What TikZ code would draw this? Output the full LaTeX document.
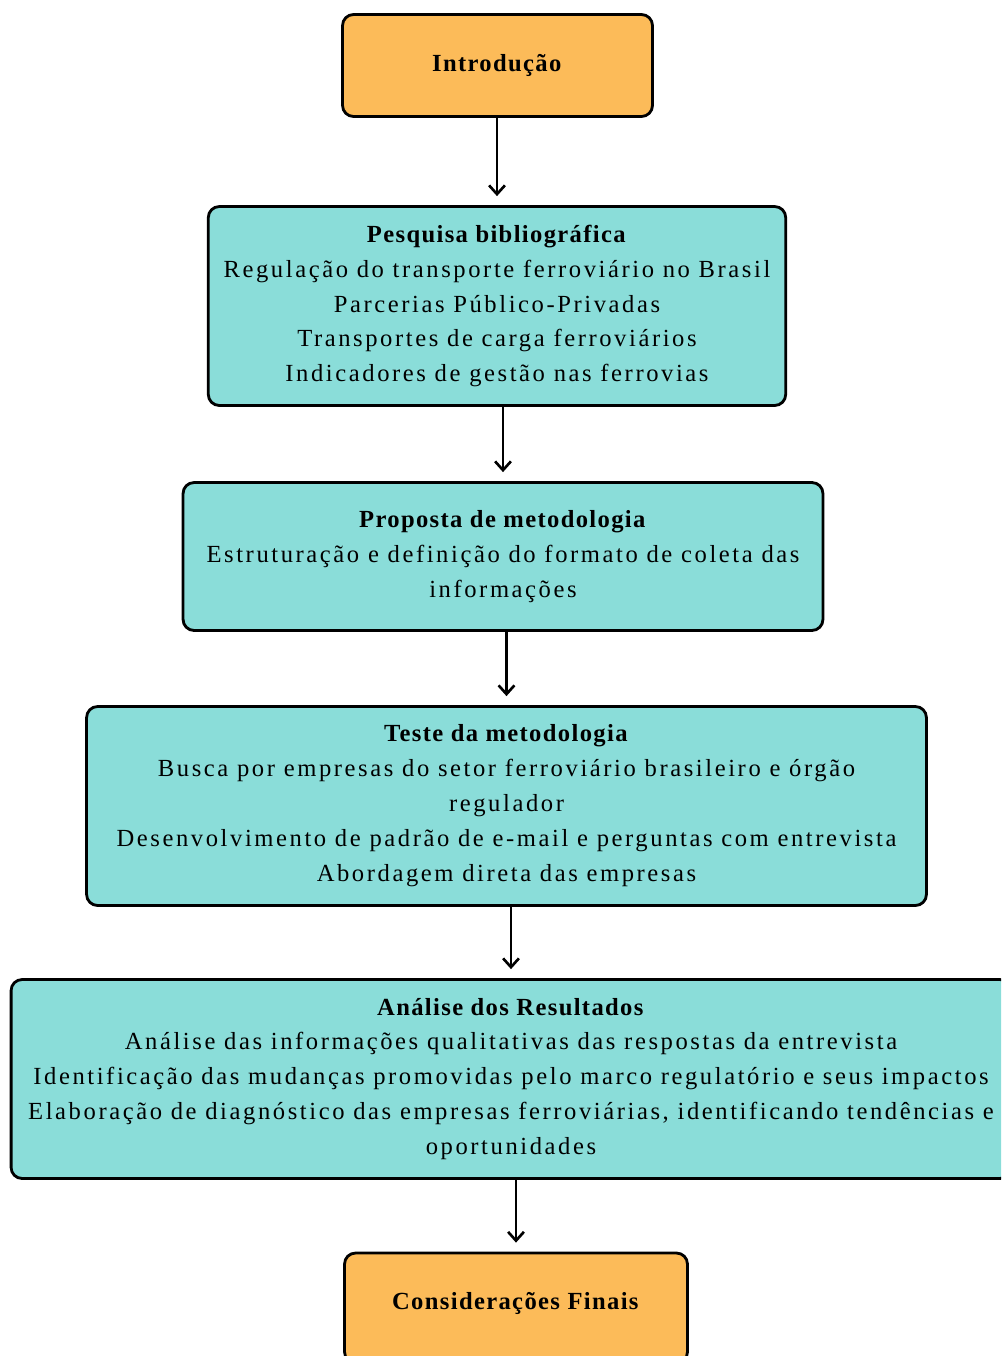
\documentclass[tikz,border=0pt]{standalone}
\usepackage{fontspec}
\setmainfont{Liberation Serif}[LetterSpace=10.5,BoldFeatures={LetterSpace=5.5}]
\usetikzlibrary{arrows.meta,positioning}

\definecolor{orangebox}{HTML}{FCBB59}
\definecolor{tealbox}{HTML}{8ADDD9}

\tikzset{
  stage/.style={rectangle,draw=black,line width=1.6pt,rounded corners=0.22cm,
    align=center,inner sep=0pt,font=\fontsize{14}{19.9}\selectfont},
  endstage/.style={stage,fill=orangebox},
  midstage/.style={stage,fill=tealbox},
  flow/.style={-{Straight Barb[length=5pt,width=9pt]},line width=1.5pt,shorten >=0.18cm}
}

\begin{document}
\begin{tikzpicture}[x=0.02cm,y=-0.02cm]
    \clip (0,0) rectangle (1001,1356);
    \useasboundingbox (0,0) rectangle (1001,1356);
    \fill[white] (0,0) rectangle (1001,1356);

    \node[endstage,minimum width=6.2cm,minimum height=2.04cm] (intro) at (497.5,65.5) {\textbf{Introdução}};

    \node[midstage,minimum width=11.55cm,minimum height=3.98cm] (pesq) at (497,306) {\textbf{Pesquisa bibliográfica}\\
        Regulação do transporte ferroviário no Brasil\\
        Parcerias Público-Privadas\\
        Transportes de carga ferroviários\\
        Indicadores de gestão nas ferrovias};

    \node[midstage,minimum width=12.8cm,minimum height=2.96cm] (prop) at (503,556.5) {\textbf{Proposta de metodologia}\\
        Estruturação e definição do formato de coleta das\\
        informações};

    \node[midstage,minimum width=16.8cm,minimum height=3.98cm] (teste) at (506.5,806) {\textbf{Teste da metodologia}\\
        Busca por empresas do setor ferroviário brasileiro e órgão\\
        regulador\\
        Desenvolvimento de padrão de e-mail e perguntas com entrevista\\
        Abordagem direta das empresas};

    \node[midstage,minimum width=20.0cm,minimum height=3.98cm] (anal) at (511,1079) {\textbf{Análise dos Resultados}\\
        Análise das informações qualitativas das respostas da entrevista\\
        Identificação das mudanças promovidas pelo marco regulatório e seus impactos\\
        Elaboração de diagnóstico das empresas ferroviárias, identificando tendências e\\
        oportunidades};

    \node[endstage,minimum width=6.86cm,minimum height=2.2cm,text depth=0.3cm] (final) at (516,1308) {\textbf{Considerações Finais}};

    \draw[flow] (intro.south -| pesq.north) -- (pesq.north);
    \draw[flow] (pesq.south -| prop.north) -- (prop.north);
    \draw[flow] (prop.south -| teste.north) -- (teste.north);
    \draw[flow] (teste.south -| anal.north) -- (anal.north);
    \draw[flow] (anal.south -| final.north) -- (final.north);
\end{tikzpicture}
\end{document}
